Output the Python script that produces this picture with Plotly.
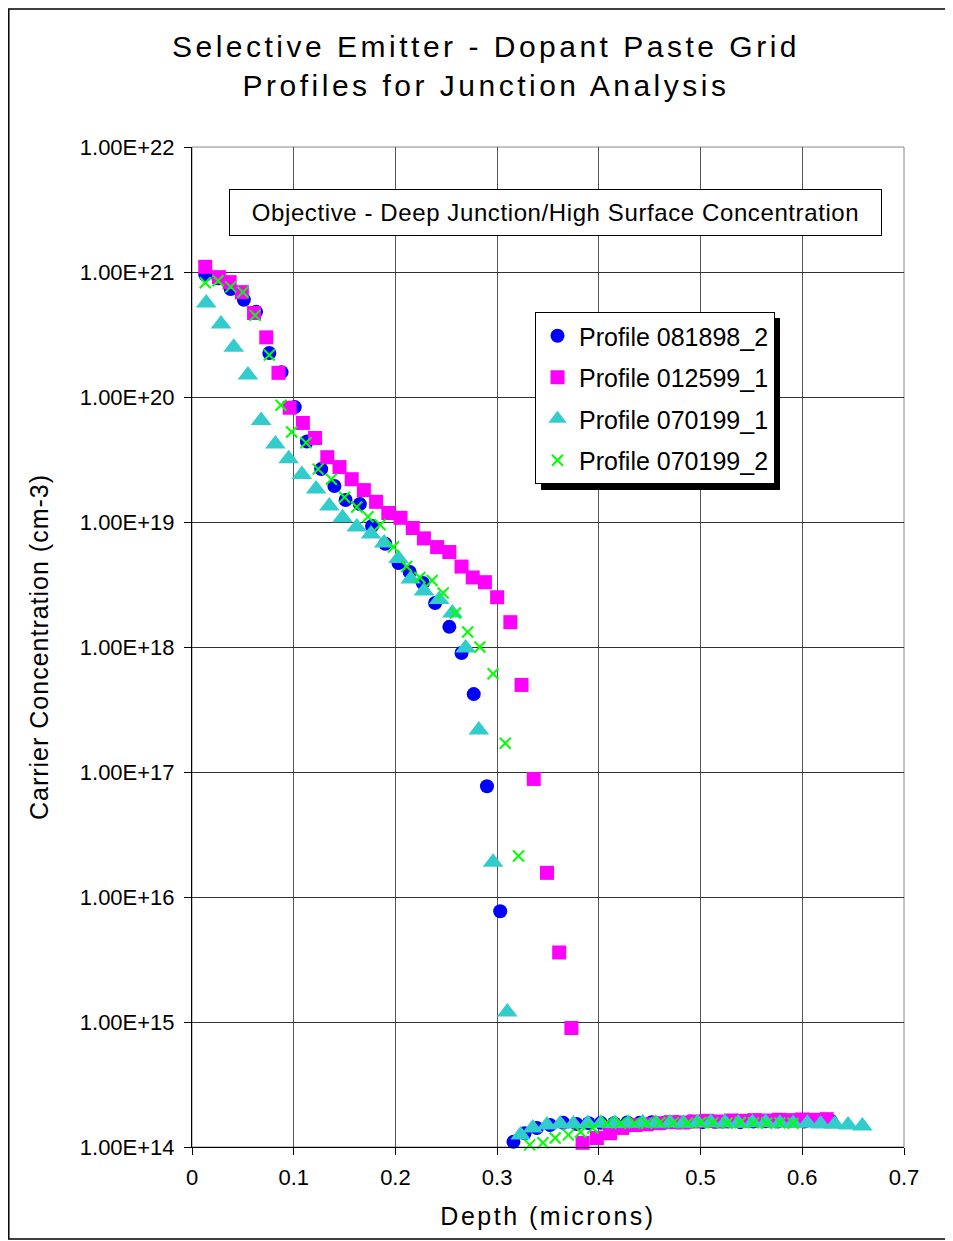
import plotly.graph_objects as go

# ---------------- data ----------------
depth_081898_2 = [0.013, 0.026, 0.038, 0.051, 0.063, 0.076, 0.088, 0.101, 0.113, 0.127,
                  0.140, 0.151, 0.165, 0.177, 0.190, 0.203, 0.214, 0.227, 0.239, 0.253,
                  0.265, 0.277, 0.290, 0.303, 0.316, 0.327, 0.339, 0.352, 0.365, 0.378,
                  0.390, 0.402, 0.415, 0.428, 0.440, 0.452, 0.465, 0.477, 0.490, 0.502,
                  0.514, 0.527, 0.539, 0.552, 0.564, 0.576, 0.589, 0.602, 0.614, 0.628]
conc_081898_2 = [9.5e20, 8.9e20, 7.3e20, 6.0e20, 4.8e20, 2.25e20, 1.58e20, 8.3e19, 4.4e19, 2.65e19,
                 1.94e19, 1.5e19, 1.39e19, 9.3e18, 6.7e18, 4.7e18, 3.98e18, 3.25e18, 2.25e18, 1.45e18,
                 8.95e17, 4.2e17, 7.7e16, 7.7e15, 1.1e14, 1.29e14, 1.42e14, 1.5e14, 1.56e14, 1.53e14,
                 1.55e14, 1.56e14, 1.55e14, 1.57e14, 1.56e14, 1.58e14, 1.57e14, 1.58e14, 1.6e14, 1.58e14,
                 1.59e14, 1.6e14, 1.58e14, 1.6e14, 1.61e14, 1.6e14, 1.62e14, 1.6e14, 1.61e14, 1.62e14]

depth_012599_1 = [0.013, 0.0265, 0.037, 0.049, 0.061, 0.073, 0.085, 0.096, 0.109, 0.121,
                  0.133, 0.145, 0.157, 0.169, 0.181, 0.193, 0.205, 0.217, 0.228, 0.241,
                  0.253, 0.265, 0.276, 0.288, 0.300, 0.313, 0.324, 0.336, 0.349, 0.361,
                  0.373, 0.384, 0.398, 0.411, 0.423, 0.436, 0.447, 0.459, 0.471, 0.483,
                  0.494, 0.506, 0.518, 0.530, 0.541, 0.553, 0.565, 0.577, 0.588, 0.600,
                  0.612, 0.624]
conc_012599_1 = [1.1e21, 9.1e20, 8.3e20, 6.9e20, 4.7e20, 3.0e20, 1.56e20, 8.2e19, 6.2e19, 4.7e19,
                 3.3e19, 2.75e19, 2.2e19, 1.8e19, 1.45e19, 1.18e19, 1.08e19, 8.95e18, 7.4e18, 6.3e18,
                 5.75e18, 4.4e18, 3.6e18, 3.3e18, 2.5e18, 1.58e18, 4.97e17, 8.8e16, 1.56e16, 3.6e15,
                 8.95e14, 1.08e14, 1.18e14, 1.29e14, 1.42e14, 1.5e14, 1.52e14, 1.55e14, 1.58e14, 1.57e14,
                 1.6e14, 1.62e14, 1.6e14, 1.63e14, 1.62e14, 1.64e14, 1.63e14, 1.65e14, 1.64e14, 1.66e14,
                 1.65e14, 1.67e14]

depth_070199_1 = [0.014, 0.0285, 0.041, 0.055, 0.068, 0.082, 0.095, 0.108, 0.122, 0.135,
                  0.148, 0.162, 0.176, 0.189, 0.203, 0.215, 0.228, 0.243, 0.256, 0.269,
                  0.282, 0.296, 0.310, 0.323, 0.335, 0.349, 0.362, 0.375, 0.389, 0.402,
                  0.416, 0.429, 0.443, 0.456, 0.470, 0.483, 0.497, 0.510, 0.524, 0.537,
                  0.551, 0.564, 0.578, 0.591, 0.605, 0.618, 0.632, 0.645, 0.659]
conc_070199_1 = [5.65e20, 3.84e20, 2.5e20, 1.5e20, 6.5e19, 4.2e19, 3.2e19, 2.4e19, 1.84e19, 1.34e19,
                 1.08e19, 9.1e18, 8.0e18, 6.8e18, 5.1e18, 3.5e18, 2.8e18, 2.4e18, 1.87e18, 9.8e17,
                 2.17e17, 1.9e16, 1.2e15, 1.25e14, 1.42e14, 1.5e14, 1.53e14, 1.53e14, 1.54e14, 1.55e14,
                 1.54e14, 1.55e14, 1.56e14, 1.55e14, 1.56e14, 1.55e14, 1.56e14, 1.57e14, 1.56e14, 1.55e14,
                 1.56e14, 1.57e14, 1.55e14, 1.54e14, 1.55e14, 1.53e14, 1.52e14, 1.5e14, 1.47e14]

depth_070199_2 = [0.013, 0.0256, 0.038, 0.050, 0.062, 0.076, 0.0875, 0.098, 0.112, 0.124,
                  0.137, 0.150, 0.162, 0.173, 0.185, 0.198, 0.211, 0.224, 0.236, 0.247,
                  0.259, 0.271, 0.283, 0.296, 0.308, 0.321, 0.332, 0.345, 0.357, 0.370,
                  0.382, 0.394, 0.408, 0.421, 0.435, 0.447, 0.460, 0.473, 0.487, 0.500,
                  0.512, 0.526, 0.539, 0.552, 0.565, 0.578, 0.591]
conc_070199_2 = [8.2e20, 8.5e20, 7.6e20, 6.9e20, 4.5e20, 2.17e20, 8.6e19, 5.25e19, 4.3e19, 2.65e19,
                 2.2e19, 1.58e19, 1.32e19, 1.1e19, 9.5e18, 6.3e18, 4.4e18, 3.6e18, 3.4e18, 2.7e18,
                 1.87e18, 1.32e18, 1.0e18, 6.1e17, 1.7e17, 2.13e16, 1.04e14, 1.08e14, 1.18e14, 1.25e14,
                 1.32e14, 1.42e14, 1.56e14, 1.55e14, 1.56e14, 1.55e14, 1.57e14, 1.56e14, 1.55e14, 1.57e14,
                 1.56e14, 1.55e14, 1.57e14, 1.56e14, 1.55e14, 1.56e14, 1.55e14]

series_names = ["Profile 081898_2", "Profile 012599_1", "Profile 070199_1", "Profile 070199_2"]

y_tickvals = [1e14, 1e15, 1e16, 1e17, 1e18, 1e19, 1e20, 1e21, 1e22]
y_ticktext = ["1.00E+14", "1.00E+15", "1.00E+16", "1.00E+17", "1.00E+18",
              "1.00E+19", "1.00E+20", "1.00E+21", "1.00E+22"]
x_tickvals = [0, 0.1, 0.2, 0.3, 0.4, 0.5, 0.6, 0.7]
x_ticktext = ["0", "0.1", "0.2", "0.3", "0.4", "0.5", "0.6", "0.7"]

title_lines = ["Selective Emitter - Dopant Paste Grid", "Profiles for Junction Analysis"]
objective_text = "Objective - Deep Junction/High Surface Concentration"

# ---------------- figure ----------------
FONT = "Liberation Sans, Arial, Helvetica, sans-serif"
OFF = 8                      # page body margin of the html page
W, H = 953 - OFF, 1241 - OFF
ML, MR, MT, MB = 192 - OFF, 49, 147 - OFF, 94
PW, PH = W - ML - MR, H - MT - MB


def px_x(p):
    """page x pixel -> paper coordinate"""
    return (p - OFF - ML) / PW


def px_y(p):
    """page y pixel -> paper coordinate"""
    return (H - MB - (p - OFF)) / PH


styles = [
    dict(symbol="circle", size=14, color="#0000FF"),
    dict(symbol="square", size=14, color="#FF00FF"),
    dict(symbol="triangle-up", size=18, color="#33CCCC"),
    dict(symbol="x-thin-open", size=11, color="#00FF00", line=dict(color="#00FF00", width=2)),
]
xs = [depth_081898_2, depth_012599_1, depth_070199_1, depth_070199_2]
ys = [conc_081898_2, conc_012599_1, conc_070199_1, conc_070199_2]

fig = go.Figure()
for i, (name, x, y, st) in enumerate(zip(series_names, xs, ys, styles)):
    fig.add_trace(go.Scatter(
        x=x, y=y, mode="markers", name=name, legendgroup=f"g{i}",
        marker=st, cliponaxis=False,
    ))

sp = "letter-spacing:3.5px"
fig.update_layout(
    width=W, height=H,
    margin=dict(l=ML, r=MR, t=MT, b=MB, autoexpand=False),
    paper_bgcolor="white", plot_bgcolor="white",
    font=dict(family=FONT, color="black", size=20),
    title=dict(
        text=f'<span style="{sp}">{title_lines[0]}</span><br><span style="{sp}">{title_lines[1]}</span>',
        x=(486 - OFF) / W, xref="container", xanchor="center",
        y=1 - (57 - OFF) / H, yref="container", yanchor="middle",
        font=dict(family=FONT, size=30, color="black"),
    ),
    xaxis=dict(
        range=[0, 0.7], tickvals=x_tickvals, ticktext=x_ticktext,
        showgrid=True, gridcolor="#555555", gridwidth=1,
        showline=True, linecolor="black", linewidth=1,
        ticks="outside", ticklen=7, tickcolor="black",
        tickfont=dict(family=FONT, size=22), ticklabelstandoff=4,
        zeroline=False,
        title=dict(text='<span style="letter-spacing:2.5px">Depth (microns)</span>',
                   font=dict(family=FONT, size=25), standoff=18),
    ),
    yaxis=dict(
        type="log", range=[14, 22], tickvals=y_tickvals, ticktext=y_ticktext,
        showgrid=True, gridcolor="#333333", gridwidth=1,
        showline=True, linecolor="black", linewidth=1,
        ticks="outside", ticklen=7, tickcolor="black",
        tickfont=dict(family=FONT, size=22), ticklabelstandoff=5,
        zeroline=False,
        title=dict(text='<span style="letter-spacing:1px">Carrier Concentration (cm-3)</span>',
                   font=dict(family=FONT, size=25), standoff=24),
    ),
    legend=dict(
        x=px_x(535), y=px_y(312), xanchor="left", yanchor="top",
        bgcolor="white", bordercolor="black", borderwidth=1,
        font=dict(family=FONT, size=25),
        traceorder="grouped", tracegroupgap=6, itemwidth=33,
    ),
    showlegend=True,
)

# objective box
fig.add_annotation(
    x=px_x(555.5), y=px_y(212.5), xref="paper", yref="paper",
    xanchor="center", yanchor="middle", showarrow=False,
    text=f'<span style="letter-spacing:0.6px">{objective_text}</span>',
    font=dict(family=FONT, size=24, color="black"),
    bgcolor="white", bordercolor="black", borderwidth=1, borderpad=3,
    width=645, height=39,
)

# plot-area frame (grey top/right), legend shadow, outer chart border
fig.add_shape(type="rect", xref="paper", yref="paper", x0=0, x1=1, y0=0, y1=1,
              line=dict(color="#888888", width=1), layer="below")
fig.add_shape(type="rect", xref="paper", yref="paper",
              x0=px_x(541), x1=px_x(780), y0=px_y(490), y1=px_y(318),
              fillcolor="black", line=dict(width=0), layer="above")
fig.add_shape(type="rect", xref="paper", yref="paper",
              x0=px_x(8.8), x1=px_x(950), y0=px_y(1239), y1=px_y(9),
              line=dict(color="black", width=1.5), layer="above")

fig.write_html("out.html")
